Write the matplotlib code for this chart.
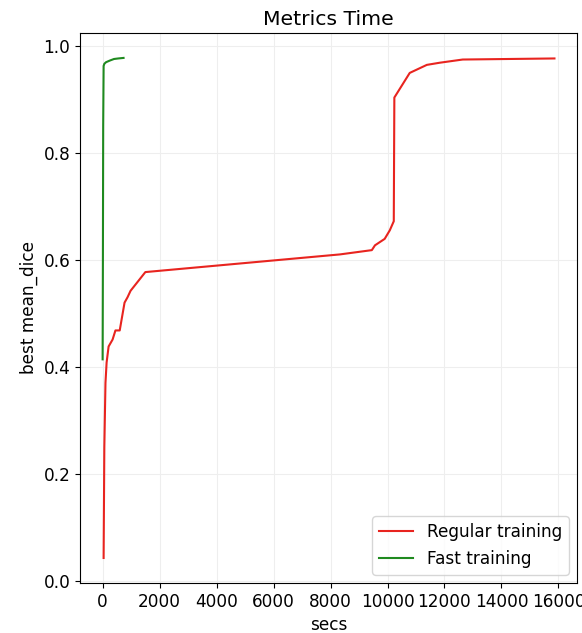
import matplotlib
matplotlib.use("Agg")
import matplotlib.pyplot as plt

plt.rcParams['font.size'] = 12.2

# regular training: seconds vs best mean dice
reg_secs = [35, 60, 100, 140, 210, 350, 450, 600, 770, 875, 980, 1500,
            8330, 9450, 9560, 9900, 10080, 10220, 10240, 10780, 11380, 11830,
            12640, 15860]
reg_dice = [0.043, 0.25, 0.37, 0.408, 0.438, 0.451, 0.468, 0.468, 0.52, 0.53,
            0.542, 0.577, 0.610, 0.618, 0.627, 0.639, 0.655, 0.672, 0.903,
            0.949, 0.964, 0.968, 0.974, 0.976]

# fast training
fast_secs = [0, 10, 20, 35, 60, 120, 250, 400, 550, 735]
fast_dice = [0.414, 0.6, 0.85, 0.962, 0.966, 0.969, 0.972, 0.975, 0.976, 0.977]

fig = plt.figure(figsize=(5.82, 6.33), dpi=100)
ax = fig.add_axes([0.1375, 0.079, 0.854, 0.869])
ax.plot(reg_secs, reg_dice, color="#e8241f", label="Regular training")
ax.plot(fast_secs, fast_dice, color="#1f8a1f", label="Fast training")
ax.set_title("Metrics Time")
ax.set_xlabel("secs")
ax.set_ylabel("best mean_dice")
ax.grid(True, color="#eeeeee", linewidth=0.8)
ax.legend(loc="lower right")
fig.savefig("out.png", dpi=100)
